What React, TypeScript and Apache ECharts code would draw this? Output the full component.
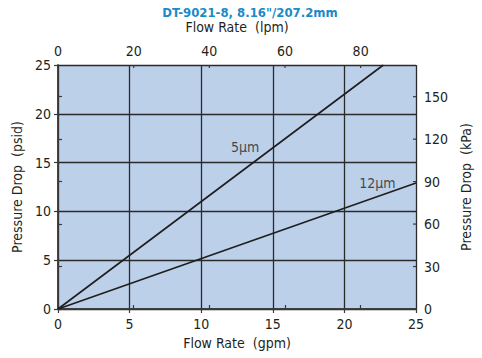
import React, { useEffect, useRef } from "react";
import * as echarts from "echarts";

const titleText = 'DT-9021-8, 8.16"/207.2mm';
const gpmMax = 25;
const lpmPerGpm = 3.78541;
const kPaPerPsi = 6.894757;
const psidMax = 25;
const lpmTicks: number[] = [0, 20, 40, 60, 80];
const kPaTicks: number[] = [0, 30, 60, 90, 120, 150];
const line5um: number[][] = [[0, 0], [22.72, 25]];
const line12um: number[][] = [[0, 0], [25, 12.9]];
const labelPoints: { name: string; value: number[] }[] = [
  { name: "5μm", value: [13.06, 16.6] },
  { name: "12μm", value: [22.3, 12.9] },
];

const FONT = "'DejaVu Sans Condensed', 'Liberation Sans Narrow', Arial, sans-serif";
const TXT = "#231f20";
const AX = "#3a3a3a";

export default function App() {
  const ref = useRef<HTMLDivElement>(null);
  useEffect(() => {
    if (!ref.current) return;
    const chart = echarts.init(ref.current, undefined, { renderer: "svg" });
    const lpmMax = gpmMax * lpmPerGpm;
    const kPaMax = psidMax * kPaPerPsi;
    const axLabel = { color: TXT, fontFamily: FONT, fontSize: 14 };
    const nameStyle = { color: TXT, fontFamily: FONT, fontSize: 14 };
    const tickStyle = { color: AX, width: 1.2 };
    const axisLine = { show: true, lineStyle: { color: AX, width: 1.5 } };
    // inner halves of the crossing ticks, placed through the chart's own scales
    const innerTicks: number[][] = [
      ...lpmTicks.map((v) => [0, v / lpmPerGpm]),
      ...kPaTicks.map((v) => [1, v / kPaPerPsi]),
    ];
    chart.setOption({
      animation: false,
      title: {
        text: titleText,
        left: 245,
        textAlign: "center",
        top: 1,
        textStyle: { color: "#1a8ac8", fontFamily: FONT, fontWeight: "bold", fontSize: 13 },
      },
      grid: {
        left: 58,
        right: 66,
        top: 65,
        bottom: 49,
        show: true,
        backgroundColor: "#bdd0ea",
        borderWidth: 0,
      },
      xAxis: [
        {
          type: "value", position: "bottom", min: 0, max: gpmMax, interval: 5,
          name: "Flow Rate  (gpm)", nameLocation: "middle", nameGap: 26, nameTextStyle: nameStyle,
          axisLine, axisTick: { show: true, length: 4, lineStyle: tickStyle },
          axisLabel: { ...axLabel, margin: 8 },
          splitLine: { show: true, lineStyle: { color: "#2a2a2a", width: 1.3 } },
        },
        {
          type: "value", position: "top", min: 0, max: lpmMax, interval: 20,
          name: "Flow Rate  (lpm)", nameLocation: "middle", nameGap: 31, nameTextStyle: nameStyle,
          axisLine, axisTick: { show: true, length: 4, lineStyle: tickStyle },
          axisLabel: { ...axLabel, margin: 7, showMaxLabel: false },
          splitLine: { show: false },
        },
      ],
      yAxis: [
        {
          type: "value", position: "left", min: 0, max: psidMax, interval: 5,
          name: "Pressure Drop  (psid)", nameLocation: "middle", nameGap: 27, nameTextStyle: nameStyle,
          axisLine, axisTick: { show: true, length: 4, lineStyle: tickStyle },
          axisLabel: { ...axLabel, margin: 7 },
          splitLine: { show: true, lineStyle: { color: "#2a2a2a", width: 1.3 } },
        },
        {
          type: "value", position: "right", min: 0, max: kPaMax, interval: 30,
          name: "Pressure Drop  (kPa)", nameLocation: "middle", nameGap: 38, nameRotate: 90, nameTextStyle: nameStyle,
          axisLine, axisTick: { show: true, length: 4, lineStyle: tickStyle },
          axisLabel: { ...axLabel, margin: 8, showMaxLabel: false },
          splitLine: { show: false },
        },
      ],
      series: [
        {
          type: "line", data: line5um, symbol: "none", xAxisIndex: 0, yAxisIndex: 0,
          lineStyle: { color: "#1e1e1e", width: 1.6 },
        },
        {
          type: "line", data: line12um, symbol: "none", xAxisIndex: 0, yAxisIndex: 0,
          lineStyle: { color: "#1e1e1e", width: 1.6 },
        },
        {
          type: "custom", xAxisIndex: 0, yAxisIndex: 0, data: innerTicks, clip: false, silent: true,
          renderItem: (params: any, api: any) => {
            const side = api.value(0);
            const v = api.value(1);
            if (side === 0) {
              const p = api.coord([v, psidMax]);
              return { type: "line", shape: { x1: p[0], y1: p[1], x2: p[0], y2: p[1] + 3 }, style: { stroke: AX, lineWidth: 1.2 } };
            }
            const p = api.coord([gpmMax, v]);
            return { type: "line", shape: { x1: p[0] - 3, y1: p[1], x2: p[0], y2: p[1] }, style: { stroke: AX, lineWidth: 1.2 } };
          },
        },
        {
          type: "scatter", data: labelPoints, symbolSize: 0, xAxisIndex: 0, yAxisIndex: 0,
          label: {
            show: true, position: "inside", formatter: (p: any) => p.name,
            color: TXT, fontFamily: FONT, fontSize: 14,
          },
        },
      ],
    });
    return () => chart.dispose();
  }, []);
  return <div ref={ref} style={{ width: 482, height: 358, position: "absolute", left: 0, top: 0 }} />;
}
